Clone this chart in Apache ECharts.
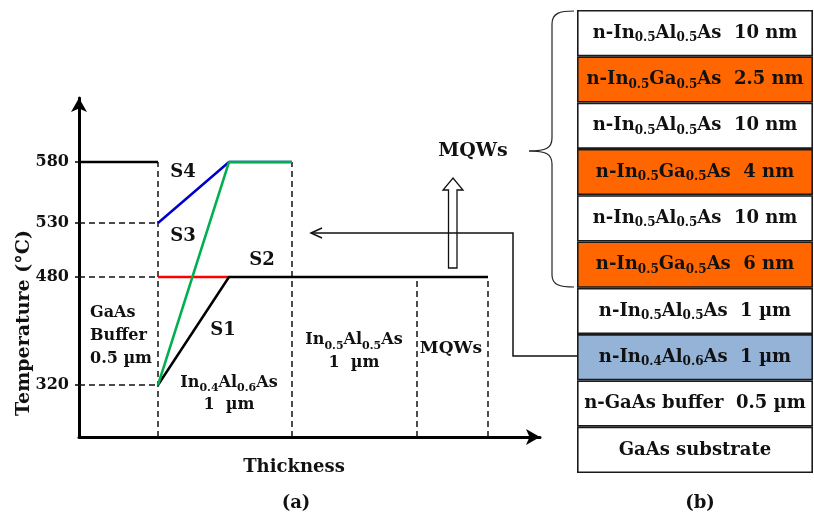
<!DOCTYPE html>
<html>
<head>
<meta charset="utf-8">
<script src="https://cdn.jsdelivr.net/npm/echarts@6/dist/echarts.min.js"></script>
<style>
  html, body { margin: 0; padding: 0; background: #fff; }
  #main { width: 814px; height: 520px; }
</style>
</head>
<body>
<div id="main"></div>
<script>
// (a) growth temperature profile -- the drawn axis is schematic, so each
// temperature has its own height on the axis
const tickTemps = [320, 480, 530, 580];
const tickPos = [5.2, 16.0, 21.4, 27.5];

const bufferX = [0, 7.9];        const bufferT = [580, 580];
const s1X = [7.9, 15.0, 40.9];   const s1T = [320, 480, 480];
const s2X = [7.9, 15.0];         const s2T = [480, 480];
const s3X = [7.9, 15.0, 21.3];   const s3T = [320, 580, 580];
const s4X = [7.9, 15.0, 21.3];   const s4T = [530, 580, 580];

// layer boundaries (dashed) and the temperature each one reaches up to
const boundX = [7.9, 21.3, 33.8, 40.9];
const boundT = [580, 580, 480, 480];
// dashed guides from the temperature axis to the first boundary
const guideT = [530, 480, 320];

// (b) layer stack, top to bottom
const layerMaterial = [
  'n-In{s|0.5}Al{s|0.5}As', 'n-In{s|0.5}Ga{s|0.5}As', 'n-In{s|0.5}Al{s|0.5}As',
  'n-In{s|0.5}Ga{s|0.5}As', 'n-In{s|0.5}Al{s|0.5}As', 'n-In{s|0.5}Ga{s|0.5}As',
  'n-In{s|0.5}Al{s|0.5}As', 'n-In{s|0.4}Al{s|0.6}As', 'n-GaAs buffer', 'GaAs substrate'
];
const layerThick = ['10 nm', '2.5 nm', '10 nm', '4 nm', '10 nm', '6 nm', '1 \u00b5m', '1 \u00b5m', '0.5 \u00b5m', ''];
const layerKind = ['InAlAs', 'InGaAs', 'InAlAs', 'InGaAs', 'InAlAs', 'InGaAs', 'InAlAs', 'InAlAs06', 'GaAs', 'GaAs'];

const kindColor = { InAlAs: '#ffffff', InGaAs: '#ff6600', InAlAs06: '#95b3d7', GaAs: '#ffffff' };
const FONT = '"DejaVu Serif", "Liberation Serif", serif';
const INK = '#111';

const h = t => tickPos[tickTemps.indexOf(t)];
const pts = (xs, ts) => xs.map((x, i) => [x, h(ts[i])]);

function rich(size) {
  return {
    s: { fontSize: Math.round(size * 0.68), lineHeight: 10, verticalAlign: 'bottom',
         fontFamily: FONT, fontWeight: 'bold', color: INK }
  };
}

const notes = [
  { text: 'S4', at: [10.4, 26.5], size: 18 },
  { text: 'S3', at: [10.4, 20.1], size: 18 },
  { text: 'S2', at: [18.3, 17.7], size: 18 },
  { text: 'S1', at: [14.4, 10.7], size: 18 },
  { text: 'GaAs\nBuffer\n0.5 \u00b5m', at: [1.1, 10.1], size: 16, align: 'left', lh: 23 },
  { text: 'In{s|0.4}Al{s|0.6}As\n1  \u00b5m', at: [15.0, 4.3], size: 16, lh: 22 },
  { text: 'In{s|0.5}Al{s|0.5}As\n1  \u00b5m', at: [27.5, 8.55], size: 16, lh: 23 },
  { text: 'MQWs', at: [37.2, 8.8], size: 17 }
];

const dashStyle = { color: INK, width: 1.5, type: [6, 4] };
const series = [];

boundX.forEach((x, i) => {
  series.push({ type: 'line', data: [[x, 0], [x, h(boundT[i])]], symbol: 'none',
    lineStyle: dashStyle, silent: true, z: 2 });
});
guideT.forEach(t => {
  series.push({ type: 'line', data: [[0, h(t)], [boundX[0], h(t)]], symbol: 'none',
    lineStyle: dashStyle, silent: true, z: 2 });
});

const solid = (xs, ts, color) => ({
  type: 'line', data: pts(xs, ts), symbol: 'none', silent: true, z: 3,
  lineStyle: { color: color, width: 2.5 }
});
series.push(solid(bufferX, bufferT, '#000'));
series.push(solid(s2X, s2T, '#ff0000'));
series.push(solid(s1X, s1T, '#000'));
series.push(solid(s4X, s4T, '#0000cc'));
series.push(solid(s3X, s3T, '#00b050'));

series.push({
  type: 'scatter', symbolSize: 0, silent: true, z: 5,
  itemStyle: { opacity: 1 },
  data: notes.map(n => ({
    value: n.at,
    label: {
      show: true, position: 'inside', formatter: n.text, opacity: 1,
      align: n.align || 'center', verticalAlign: 'middle',
      fontFamily: FONT, fontWeight: 'bold', fontSize: n.size, color: INK,
      lineHeight: n.lh || n.size + 4, rich: rich(n.size)
    }
  }))
});

// layer stack as full-width bars on a category axis
series.push({
  type: 'bar', xAxisIndex: 1, yAxisIndex: 1, barWidth: '100%', silent: true,
  data: layerKind.map(k => ({
    value: 1,
    itemStyle: { color: kindColor[k], borderColor: '#1a1a1a', borderWidth: 1.6 }
  })),
  label: {
    show: true, position: 'inside',
    formatter: p => layerMaterial[p.dataIndex] + (layerThick[p.dataIndex] ? '  ' + layerThick[p.dataIndex] : ''),
    fontFamily: FONT, fontWeight: 'bold', fontSize: 18, color: INK, lineHeight: 22,
    rich: rich(18)
  }
});

const braceStyle = { fill: 'none', stroke: '#222', lineWidth: 1.2 };
const bez = (x1, y1, c1x, c1y, c2x, c2y, x2, y2) => ({
  type: 'bezierCurve', silent: true, style: braceStyle,
  shape: { x1: x1, y1: y1, cpx1: c1x, cpy1: c1y, cpx2: c2x, cpy2: c2y, x2: x2, y2: y2 }
});
const seg = (x1, y1, x2, y2) => ({
  type: 'line', silent: true, style: braceStyle, shape: { x1: x1, y1: y1, x2: x2, y2: y2 }
});

const chart = echarts.init(document.getElementById('main'));
chart.setOption({
  animation: false,
  backgroundColor: '#fff',
  grid: [
    { left: 79, top: 98, width: 461, height: 339 },
    { left: 577, top: 10, width: 236, height: 463 }
  ],
  xAxis: [
    { type: 'value', gridIndex: 0, min: 0, max: 46.1,
      axisLine: { lineStyle: { color: '#000', width: 3 }, symbol: ['none', 'arrow'], symbolSize: [12, 14] },
      axisTick: { show: false }, axisLabel: { show: false }, splitLine: { show: false } },
    { type: 'value', gridIndex: 1, min: 0, max: 1, show: false }
  ],
  yAxis: [
    { type: 'value', gridIndex: 0, min: 0, max: 33.9,
      axisLine: { show: true, lineStyle: { color: '#000', width: 3 }, symbol: ['none', 'arrow'], symbolSize: [12, 14] },
      axisTick: { show: true, customValues: tickPos, length: 4, lineStyle: { color: '#000', width: 1.5 } },
      axisLabel: { customValues: tickPos, margin: 10,
        formatter: v => String(tickTemps[tickPos.indexOf(v)]),
        fontFamily: FONT, fontWeight: 'bold', fontSize: 16, color: INK },
      splitLine: { show: false } },
    { type: 'category', gridIndex: 1, inverse: true, show: false,
      data: layerMaterial.map((m, i) => i) }
  ],
  graphic: [
    { type: 'text', x: 24, y: 323, rotation: Math.PI / 2, silent: true,
      style: { text: 'Temperature (\u00b0C)', font: 'bold 19px ' + FONT, fill: INK, align: 'center', verticalAlign: 'middle' } },
    { type: 'text', x: 294, y: 467, silent: true,
      style: { text: 'Thickness', font: 'bold 18px ' + FONT, fill: INK, align: 'center', verticalAlign: 'middle' } },
    { type: 'text', x: 296, y: 503, silent: true,
      style: { text: '(a)', font: 'bold 18px ' + FONT, fill: INK, align: 'center', verticalAlign: 'middle' } },
    { type: 'text', x: 700, y: 503, silent: true,
      style: { text: '(b)', font: 'bold 18px ' + FONT, fill: INK, align: 'center', verticalAlign: 'middle' } },
    { type: 'text', x: 473, y: 151, silent: true,
      style: { text: 'MQWs', font: 'bold 19px ' + FONT, fill: INK, align: 'center', verticalAlign: 'middle' } },
    // curly brace grouping the quantum-well layers
    bez(574, 11, 560, 11, 552, 13, 552, 24),
    seg(552, 24, 552, 138),
    bez(552, 138, 552, 148, 546, 151, 529, 151),
    bez(529, 151, 546, 151, 552, 154, 552, 164),
    seg(552, 164, 552, 275),
    bez(552, 275, 552, 285, 560, 287, 574, 287),
    // hollow up arrow
    { type: 'polygon', silent: true,
      shape: { points: [[448.5, 268], [457, 268], [457, 190], [463, 190], [453, 178], [443, 190], [448.5, 190]] },
      style: { fill: '#fff', stroke: '#111', lineWidth: 1.3 } },
    // connector from the In0.4Al0.6As layer to the profile
    { type: 'polyline', silent: true,
      shape: { points: [[577, 356], [513, 356], [513, 233], [311, 233]] },
      style: { fill: 'none', stroke: '#111', lineWidth: 1.5 } },
    { type: 'polyline', silent: true,
      shape: { points: [[322, 228], [311, 233], [322, 238]] },
      style: { fill: 'none', stroke: '#111', lineWidth: 1.5 } }
  ],
  series: series
});
</script>
</body>
</html>
